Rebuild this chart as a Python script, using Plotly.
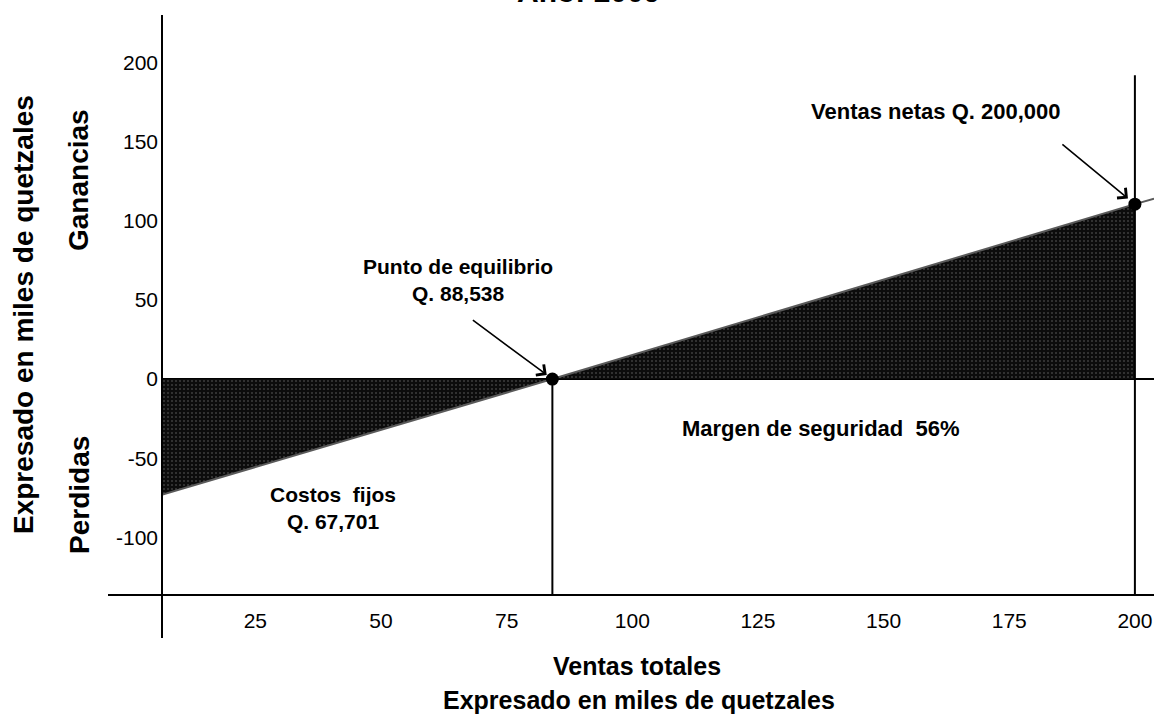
import plotly.graph_objects as go

# ---------------- data (thousands of quetzales) ----------------
x_ticks = [25, 50, 75, 100, 125, 150, 175, 200]
x_tick_labels = ["25", "50", "75", "100", "125", "150", "175", "200"]
y_ticks = [200, 150, 100, 50, 0, -50, -100]
y_tick_labels = ["200", "150", "100", "50", "0", "-50", "-100"]

# utility line (sales -> profit / loss) as drawn
utility_x = [6.2, 84.1, 200.0, 203.8]
utility_y = [-73.3, 0.0, 110.5, 114.0]

# loss area (Perdidas) and profit area (Ganancias)
loss_x = [6.2, 6.2, 84.1, 6.2]
loss_y = [0.0, -73.3, 0.0, 0.0]
profit_x = [84.1, 200.0, 200.0, 84.1]
profit_y = [0.0, 110.5, 0.0, 0.0]

breakeven_x, breakeven_y = 84.1, 0.0
sales_x, sales_y = 200.0, 110.5
sales_line_top = 192.0

label_breakeven = "Punto de equilibrio<br>Q. 88,538"
label_sales = "Ventas netas Q. 200,000"
label_fixed = "Costos&nbsp; fijos<br>Q. 67,701"
label_margin = "Margen de seguridad&nbsp; 56%"
title_text = "Año: 2009"
x_title_1 = "Ventas totales"
x_title_2 = "Expresado en miles de quetzales"
y_title_main = "Expresado en miles de quetzales"
y_title_gain = "Ganancias"
y_title_loss = "Perdidas"

# ---------------- layout geometry ----------------
W, H = 1154, 719
ML, MT, MB, MR = 162, 15, 124, 0
X_RANGE = [6.43, 203.8]
Y_RANGE = [-136.4, 230.0]
PW, PH = W - ML - MR, H - MT - MB


def px_x(px):
    return (px - ML) / PW


def px_y(py):
    return (H - MB - py) / PH


BOLD = "Liberation Sans, Arial, sans-serif"
fig = go.Figure()

fill_pattern = dict(shape=".", bgcolor="#0c0c0c", fgcolor="#6e6e6e", size=4, solidity=0.2)

fig.add_trace(go.Scatter(x=loss_x, y=loss_y, mode="lines", fill="toself",
                         fillcolor="#0c0c0c", fillpattern=fill_pattern,
                         line=dict(color="rgba(0,0,0,0)", width=0), hoverinfo="skip"))
fig.add_trace(go.Scatter(x=profit_x, y=profit_y, mode="lines", fill="toself",
                         fillcolor="#0c0c0c", fillpattern=fill_pattern,
                         line=dict(color="rgba(0,0,0,0)", width=0), hoverinfo="skip"))
# utility line
fig.add_trace(go.Scatter(x=utility_x, y=utility_y, mode="lines",
                         line=dict(color="#5a5a5a", width=2), hoverinfo="skip"))
# vertical lines
fig.add_trace(go.Scatter(x=[breakeven_x, breakeven_x], y=[breakeven_y, Y_RANGE[0]], mode="lines",
                         line=dict(color="black", width=2), hoverinfo="skip"))
fig.add_trace(go.Scatter(x=[sales_x, sales_x], y=[sales_line_top, Y_RANGE[0]], mode="lines",
                         line=dict(color="black", width=2), hoverinfo="skip"))
# points
fig.add_trace(go.Scatter(x=[breakeven_x, sales_x], y=[breakeven_y, sales_y], mode="markers",
                         marker=dict(color="black", size=13), cliponaxis=False, hoverinfo="skip"))

# axis line extensions
fig.add_shape(type="line", xref="paper", yref="paper", x0=0, x1=0, y0=px_y(638), y1=1,
              line=dict(color="black", width=2))
fig.add_shape(type="line", xref="paper", yref="paper", x0=px_x(108), x1=1, y0=0, y1=0,
              line=dict(color="black", width=2))


def txt(text, px, py, size, angle=0):
    fig.add_annotation(text=f"<b>{text}</b>", xref="paper", yref="paper",
                       x=px_x(px), y=px_y(py), showarrow=False, textangle=angle,
                       xanchor="center", yanchor="middle",
                       font=dict(family=BOLD, size=size, color="black"))


txt(label_breakeven, 458, 280, 21)
txt(label_sales, 936, 111, 22)
txt(label_fixed, 333, 508, 21)
txt(label_margin, 821, 428, 22)
txt(x_title_1, 637, 666, 25)
txt(x_title_2, 639, 700, 25)
txt(y_title_main, 24, 315, 28, angle=-90)
txt(y_title_gain, 79, 180, 28, angle=-90)
txt(y_title_loss, 79, 495, 28, angle=-90)

# title, cut off at the very top as in the reference
fig.add_annotation(text=f"<b>{title_text}</b>", xref="paper", yref="paper", x=px_x(588), y=1,
                   yanchor="bottom", yshift=5, showarrow=False,
                   font=dict(family=BOLD, size=30, color="black"))

# arrows
fig.add_annotation(x=breakeven_x, y=breakeven_y, xref="x", yref="y", text="", showarrow=True,
                   ax=-81, ay=-60, arrowhead=4, arrowsize=1.6, arrowwidth=1.6, arrowcolor="black",
                   standoff=7)
fig.add_annotation(x=sales_x, y=sales_y, xref="x", yref="y", text="", showarrow=True,
                   ax=-74, ay=-61, arrowhead=4, arrowsize=1.6, arrowwidth=1.6, arrowcolor="black",
                   standoff=9)

TICKFONT = dict(size=21, family="Liberation Sans, Arial, sans-serif", color="black")
fig.update_layout(
    width=W, height=H,
    margin=dict(l=ML, r=MR, t=MT, b=MB, pad=0),
    paper_bgcolor="white", plot_bgcolor="white",
    showlegend=False,
    font=dict(family="Liberation Sans, Arial, sans-serif", color="black"),
    xaxis=dict(range=X_RANGE, tickvals=x_ticks, ticktext=x_tick_labels, ticks="", showgrid=False,
               zeroline=False, showline=False, tickfont=TICKFONT,
               ticklabelstandoff=11, fixedrange=True),
    yaxis=dict(range=Y_RANGE, tickvals=y_ticks, ticktext=y_tick_labels, ticks="", showgrid=False,
               zeroline=True, zerolinecolor="black", zerolinewidth=2, showline=False,
               tickfont=TICKFONT, ticklabelstandoff=3, fixedrange=True),
)

fig.write_html("out.html", config={"displayModeBar": False},
               post_script="document.body.style.margin='0';document.body.style.overflow='hidden';")
